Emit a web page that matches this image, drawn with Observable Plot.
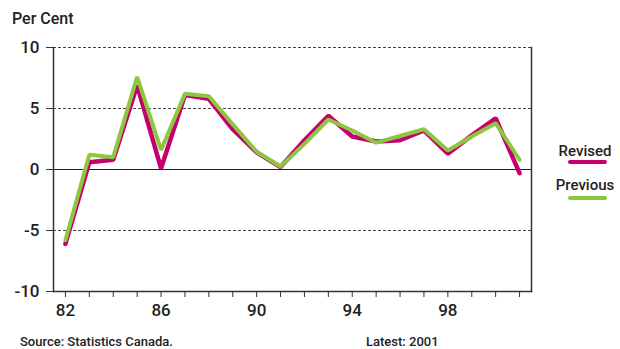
<!DOCTYPE html>
<html><head><meta charset="utf-8">
<script src="https://cdn.jsdelivr.net/npm/d3@7"></script>
<script src="https://cdn.jsdelivr.net/npm/@observablehq/plot@0.6"></script>
<style>
body{margin:0;background:#fff;}
#wrap{position:relative;width:620px;height:349px;font-family:Roboto,"Liberation Sans",sans-serif;font-weight:500;color:#222;}
.t{position:absolute;white-space:nowrap;line-height:1;}
.sw{position:absolute;height:4px;border-radius:2px;}
</style></head><body><div id="wrap"></div>
<script>
const years = [82,83,84,85,86,87,88,89,90,91,92,93,94,95,96,97,98,99,100,101];
const revised  = [-6.1,0.6,0.8,6.9,0.1,6.1,5.8,3.3,1.4,0.2,2.4,4.4,2.7,2.3,2.4,3.2,1.3,2.8,4.2,-0.3];
const previous = [-5.8,1.2,1.0,7.6,1.6,6.2,6.0,3.7,1.45,0.25,2.1,4.1,3.2,2.2,2.75,3.3,1.55,2.7,3.8,0.8];
const yTicks = [-10,-5,0,5,10];
const xLabelYears = [82,86,90,94,98];
const seriesNames = ["Revised","Previous"];
const seriesColors = ["#c4006f","#8dc63f"];
const yLabel = "Per Cent";
const source = "Source: Statistics Canada.";
const latest = "Latest: 2001";

const font = 'Roboto,"Liberation Sans",sans-serif';
const plot = Plot.plot({
  width:620, height:349,
  marginLeft:53, marginRight:89, marginTop:47, marginBottom:58,
  style:{fontFamily:font, fontSize:"17px", fontWeight:"500", color:"#222", background:"white"},
  x:{domain:[81.5,101.5]},
  y:{domain:[-10,10]},
  marks:[
    Plot.ruleY(yTicks.filter(d=>d!==0), {stroke:"#444", strokeDasharray:"3,2", strokeWidth:1}),
    Plot.ruleY([0], {stroke:"#222", strokeWidth:1}),
    Plot.frame({anchor:"left", stroke:"#333", strokeWidth:1.5}),
    Plot.frame({anchor:"right", stroke:"#333", strokeWidth:1.5}),
    Plot.frame({anchor:"bottom", stroke:"#333", strokeWidth:1.5}),
    Plot.axisY({ticks:yTicks, tickSize:7, tickPadding:7, label:null, stroke:"#333", tickFormat:d=>String(d)}),
    Plot.axisX({ticks:years, tickSize:6, tickPadding:6, label:null, stroke:"#333",
      tickFormat:d=>xLabelYears.includes(d)?String(d):""}),
    Plot.lineY(revised, {x:years, stroke:seriesColors[0], strokeWidth:4.5, strokeLinejoin:"miter"}),
    Plot.lineY(previous, {x:years, stroke:seriesColors[1], strokeWidth:4, strokeLinejoin:"miter"})
  ]
});
const wrap = document.getElementById("wrap");
wrap.appendChild(plot);
function addText(txt, left, top, size, color){
  const d=document.createElement("div"); d.className="t"; d.textContent=txt;
  d.style.left=left+"px"; d.style.top=top+"px"; d.style.fontSize=size+"px"; if(color) d.style.color=color;
  wrap.appendChild(d); return d;
}
addText(yLabel, 12, 11, 16);
addText(source, 20, 335, 13);
addText(latest, 366, 335, 13);
const legTops=[144,178], lineTops=[160,196];
seriesNames.forEach((n,i)=>{
  const d=addText(n, 0, legTops[i], 15);
  d.style.left="auto"; d.style.right="2px";
  d.style.width="66px"; d.style.textAlign="center";
  const s=document.createElement("div"); s.className="sw";
  s.style.left="568px"; s.style.width="39px"; s.style.top=lineTops[i]+"px"; s.style.background=seriesColors[i];
  wrap.appendChild(s);
});
</script></body></html>
